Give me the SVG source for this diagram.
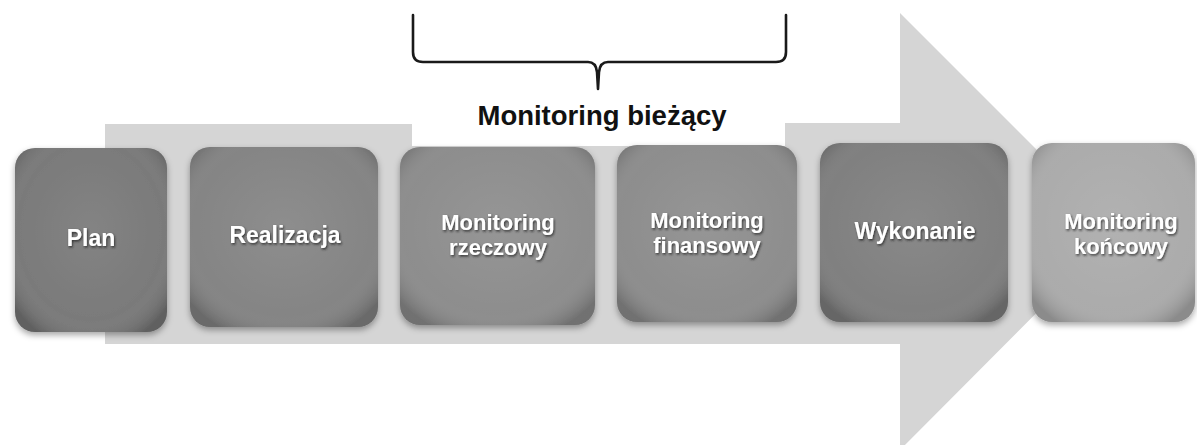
<svg xmlns="http://www.w3.org/2000/svg" width="1197" height="445" viewBox="0 0 1197 445">
  <defs>
    <radialGradient id="shade" cx="0.5" cy="0.45" r="0.65">
      <stop offset="0" stop-color="#ffffff" stop-opacity="0.10"/>
      <stop offset="0.75" stop-color="#ffffff" stop-opacity="0.03"/>
      <stop offset="1" stop-color="#000000" stop-opacity="0.18"/>
    </radialGradient>
    <filter id="boxShadow" x="-10%" y="-10%" width="120%" height="125%">
      <feDropShadow dx="0" dy="3" stdDeviation="3" flood-color="#000" flood-opacity="0.35"/>
    </filter>
    <filter id="txtShadow" x="-10%" y="-20%" width="120%" height="150%">
      <feDropShadow dx="1" dy="1.5" stdDeviation="1" flood-color="#222" flood-opacity="0.8"/>
    </filter>
  </defs>
  <style>
    .lbl { font-family: "Liberation Sans", Arial, sans-serif; font-weight: bold; font-size: 23px; fill: #ffffff; text-anchor: middle; }
    .lbl2 { font-family: "Liberation Sans", Arial, sans-serif; font-weight: bold; font-size: 22px; fill: #ffffff; text-anchor: middle; }
    .title { font-family: "Liberation Sans", Arial, sans-serif; font-weight: bold; font-size: 27.5px; fill: #111111; text-anchor: middle; }
    .brace { fill: none; stroke: #1a1a1a; stroke-width: 2.6; stroke-linejoin: round; stroke-linecap: round; }
  </style>
  <rect width="1197" height="445" fill="#ffffff"/>

  <!-- big background arrow -->
  <g id="arrow">
    <path d="M105,124 H412 V146 H785 V123 H900 V13 L1118,231 L900,450 V344 H105 Z" fill="#d5d5d5"/>
  </g>

  <!-- brace and title -->
  <g id="connectors">
    <path class="brace" d="M413,15 V52 Q413,62 423,62 H588 Q596,62 597,72 L598,89 L599,72 Q600,62 608,62 H776 Q786,62 786,52 V15"/>
  </g>
  <g id="title">
    <text class="title" x="602" y="125">Monitoring bieżący</text>
  </g>

  <g id="plan" filter="url(#boxShadow)">
    <rect x="15" y="148" width="152" height="184" rx="20" fill="#767676"/>
    <rect x="15" y="148" width="152" height="184" rx="20" fill="url(#shade)"/>
    <text class="lbl" x="91" y="246" filter="url(#txtShadow)">Plan</text>
  </g>
  <g id="realizacja" filter="url(#boxShadow)">
    <rect x="190" y="147" width="188" height="180" rx="20" fill="#818181"/>
    <rect x="190" y="147" width="188" height="180" rx="20" fill="url(#shade)"/>
    <text class="lbl" x="285" y="243" filter="url(#txtShadow)">Realizacja</text>
  </g>
  <g id="monitoring-rzeczowy" filter="url(#boxShadow)">
    <rect x="400" y="147" width="195" height="178" rx="20" fill="#8a8a8a"/>
    <rect x="400" y="147" width="195" height="178" rx="20" fill="url(#shade)"/>
    <text class="lbl2" x="498" y="230" filter="url(#txtShadow)">Monitoring</text>
    <text class="lbl2" x="498" y="255" filter="url(#txtShadow)">rzeczowy</text>
  </g>
  <g id="monitoring-finansowy" filter="url(#boxShadow)">
    <rect x="617" y="145" width="180" height="177" rx="20" fill="#8a8a8a"/>
    <rect x="617" y="145" width="180" height="177" rx="20" fill="url(#shade)"/>
    <text class="lbl2" x="707" y="228" filter="url(#txtShadow)">Monitoring</text>
    <text class="lbl2" x="707" y="253" filter="url(#txtShadow)">finansowy</text>
  </g>
  <g id="wykonanie" filter="url(#boxShadow)">
    <rect x="820" y="143" width="188" height="179" rx="20" fill="#7c7c7c"/>
    <rect x="820" y="143" width="188" height="179" rx="20" fill="url(#shade)"/>
    <text class="lbl" x="915" y="239" filter="url(#txtShadow)">Wykonanie</text>
  </g>
  <g id="monitoring-koncowy" filter="url(#boxShadow)">
    <rect x="1032" y="143" width="163" height="179" rx="20" fill="#a9a9a9"/>
    <rect x="1032" y="143" width="163" height="179" rx="20" fill="url(#shade)"/>
    <text class="lbl2" x="1121" y="229" filter="url(#txtShadow)">Monitoring</text>
    <text class="lbl2" x="1121" y="254" filter="url(#txtShadow)">końcowy</text>
  </g>
</svg>
